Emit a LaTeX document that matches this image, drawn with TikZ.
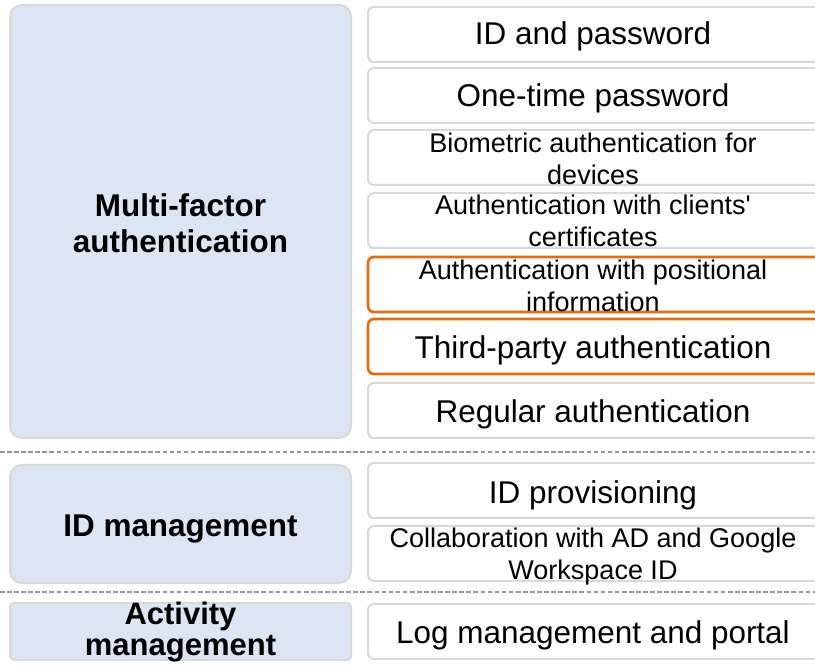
\documentclass[tikz,border=0pt]{standalone}
\usepackage{fontspec}
\setmainfont{Liberation Sans}[Ligatures=TeXOff]
\definecolor{boxline}{RGB}{217,217,217}
\definecolor{catfill}{RGB}{220,230,242}
\definecolor{hilite}{RGB}{228,108,10}
\definecolor{sepline}{RGB}{150,150,150}
% zero-width strut that fixes the height of a first line to 1em
\newcommand{\firstlinestrut}{\rule{0pt}{1em}}
\tikzset{
  catbox/.style={draw=boxline, line width=1.5pt, fill=catfill, rounded corners=9pt},
  catboxsmall/.style={draw=boxline, line width=1.5pt, fill=catfill, rounded corners=3pt},
  itembox/.style={draw=boxline, line width=1.5pt, fill=white, rounded corners=4.5pt},
  hilitebox/.style={draw=hilite, line width=2pt, fill=white, rounded corners=4.5pt},
  sepdash/.style={draw=sepline, line width=0.8pt, dash pattern=on 3.5pt off 1.8pt},
  itemtext/.style={inner sep=0pt, anchor=base, font=\fontsize{23.6pt}{27.5pt}\selectfont},
  itemsmall/.style={inner sep=0pt, anchor=north, align=center, font=\fontsize{20.25pt}{23.6pt}\selectfont},
  cattext/.style={inner sep=0pt, align=center, font=\bfseries\fontsize{23.6pt}{27.5pt}\selectfont},
}
\begin{document}
\begin{tikzpicture}[x=0.75pt,y=-0.75pt]
\clip (0,0) rectangle (815,666);
\fill[white] (0,0) rectangle (815,666);

% category panels on the left
\draw[catbox] (10,5) rectangle (351,438);
\draw[catbox] (10,465) rectangle (351,583);
\draw[catboxsmall] (10,603) rectangle (351,660);

% item panels on the right (they run past the right edge)
\draw[itembox]   (368,7)   rectangle (822,62);
\draw[itembox]   (368,68)  rectangle (822,123);
\draw[itembox]   (368,130) rectangle (822,185);
\draw[itembox]   (368,193) rectangle (822,248);
\draw[hilitebox] (368,257) rectangle (822,312);
\draw[hilitebox] (368,319) rectangle (822,374);
\draw[itembox]   (368,383) rectangle (822,438);
\draw[itembox]   (368,463) rectangle (822,518);
\draw[itembox]   (368,526) rectangle (822,581);
\draw[itembox]   (368,604) rectangle (822,659);

% group separators
\draw[sepdash] (0,452) -- (815,452);
\draw[sepdash] (0,592) -- (815,592);

% category labels
\node[cattext, anchor=north] (mfa) at (180.5,184.5) {\firstlinestrut Multi-factor\\authentication};
\node[cattext, anchor=base] (idm) at (180.5,537) {ID management};
\node[cattext, anchor=north, font=\bfseries\fontsize{23.25pt}{23.55pt}\selectfont] (act) at (180.5,593.3) {\firstlinestrut Activity\\management};

% item labels
\node[itemtext] (idpw)   at (593,45)    {ID and password};
\node[itemtext] (otp)    at (593,106.7) {One-time password};
\node[itemsmall] (bio)   at (593,125.3) {\firstlinestrut Biometric authentication for\\devices};
\node[itemsmall] (cert)  at (593,187.5) {\firstlinestrut Authentication with clients'\\certificates};
\node[itemsmall] (pos)   at (593,252.3) {\firstlinestrut Authentication with positional\\information};
\node[itemtext] (third)  at (593,358.3) {Third-party authentication};
\node[itemtext] (reg)    at (593,422.7) {Regular authentication};
\node[itemtext] (prov)   at (593,503.3) {ID provisioning};
\node[itemsmall] (collab) at (593,520.3) {\firstlinestrut Collaboration with AD and Google\\Workspace ID};
\node[itemtext] (logm)   at (593,644)   {Log management and portal};
\end{tikzpicture}
\end{document}
